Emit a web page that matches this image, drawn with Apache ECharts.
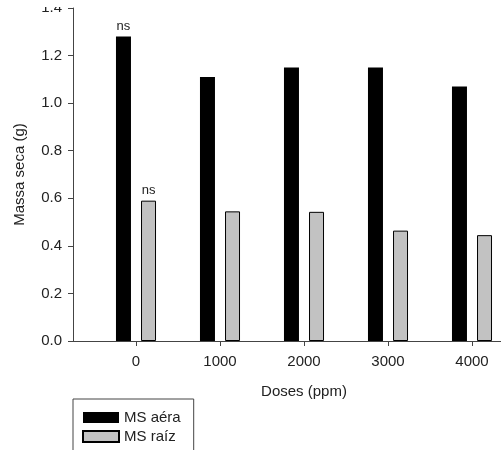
<!DOCTYPE html>
<html>
<head>
<meta charset="utf-8">
<script src="https://cdn.jsdelivr.net/npm/echarts@6/dist/echarts.min.js"></script>
<style>
  html, body { margin: 0; padding: 0; background: #fff; }
  #chart { width: 501px; height: 450px; }
</style>
</head>
<body>
<div id="chart"></div>
<script>
// Dose levels (ppm) and dry mass (g) for shoot and root
const doses = [0, 1000, 2000, 3000, 4000];
const msAera = [1.28, 1.11, 1.15, 1.15, 1.07];
const msRaiz = [0.59, 0.545, 0.543, 0.464, 0.445];
const signifAera = ['ns', '', '', '', ''];
const signifRaiz = ['ns', '', '', '', ''];
const yTicks = [0, 0.2, 0.4, 0.6, 0.8, 1.0, 1.2, 1.4];

const font = 'Liberation Sans, Arial, sans-serif';
const textColor = '#222';
const lineColor = '#444';

function buildData(values, marks) {
  return values.map((v, i) => ({
    value: [doses[i], v],
    label: { show: marks[i] !== '', formatter: marks[i] }
  }));
}

const chart = echarts.init(document.getElementById('chart'), null, { renderer: 'canvas' });

chart.setOption({
  animation: false,
  backgroundColor: '#fff',
  textStyle: { fontFamily: font },
  grid: { left: 73, top: 8, width: 462, height: 333, outerBoundsMode: 'none', containLabel: false },
  xAxis: {
    type: 'value',
    min: -750,
    max: 4750,
    name: 'Doses (ppm)',
    nameLocation: 'middle',
    nameGap: 43,
    nameTextStyle: { fontSize: 15, color: textColor, fontFamily: font },
    splitLine: { show: false },
    axisLine: { show: true, onZero: false, lineStyle: { color: lineColor, width: 1 } },
    axisTick: { show: true, length: 5, customValues: doses, lineStyle: { color: lineColor } },
    axisLabel: {
      customValues: doses, margin: 13, fontSize: 15, color: textColor, fontFamily: font,
      formatter: v => String(v)
    }
  },
  yAxis: {
    type: 'value',
    min: 0,
    max: 1.4,
    interval: 0.2,
    name: 'Massa seca (g)',
    nameLocation: 'middle',
    nameGap: 46,
    nameTextStyle: { fontSize: 15, color: textColor, fontFamily: font },
    splitLine: { show: false },
    axisLine: { show: true, onZero: false, lineStyle: { color: lineColor, width: 1 } },
    axisTick: { show: true, length: 5, lineStyle: { color: lineColor } },
    axisLabel: {
      margin: 11, fontSize: 15, color: textColor, fontFamily: font,
      customValues: yTicks,
      formatter: v => v.toFixed(1)
    }
  },
  legend: {
    left: 73,
    top: 399,
    height: 60,
    orient: 'vertical',
    icon: 'rect',
    itemWidth: 36,
    itemHeight: 11,
    itemGap: 4,
    padding: [11, 13, 14, 9],
    borderColor: lineColor,
    borderWidth: 1,
    textStyle: { fontSize: 15, color: textColor, fontFamily: font },
    data: ['MS aéra', 'MS raíz']
  },
  graphic: [{
    type: 'rect',
    z: 100,
    shape: { x: 0, y: 0, width: 72, height: 7 },
    style: { fill: '#fff' }
  }],
  series: [
    {
      name: 'MS aéra',
      type: 'bar',
      barWidth: 15,
      barGap: '67%',
      itemStyle: { color: '#000', borderColor: '#000', borderWidth: 0 },
      label: { position: 'top', distance: 4, fontSize: 13, color: textColor, fontFamily: font },
      data: buildData(msAera, signifAera)
    },
    {
      name: 'MS raíz',
      type: 'bar',
      barWidth: 15,
      barGap: '67%',
      itemStyle: { color: '#c2c2c2', borderColor: '#000', borderWidth: 1 },
      label: { position: 'top', distance: 4, fontSize: 13, color: textColor, fontFamily: font },
      data: buildData(msRaiz, signifRaiz)
    }
  ]
});
</script>
</body>
</html>
